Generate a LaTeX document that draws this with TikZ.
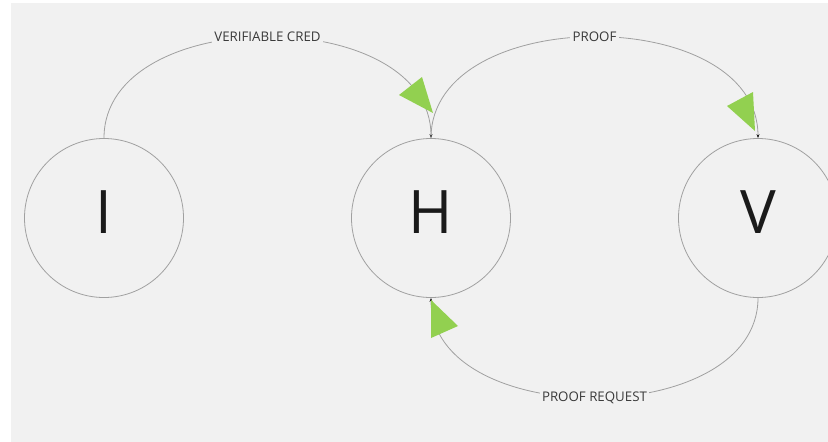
\documentclass[tikz,border=0pt]{standalone}
\usepackage{fontspec}
\setmainfont{Open Sans}
\usetikzlibrary{arrows.meta}
\definecolor{bggray}{HTML}{F1F1F1}
\definecolor{linegray}{HTML}{A0A0A0}
\definecolor{arrgreen}{HTML}{92D050}
\definecolor{lbl}{HTML}{3A3A3A}
\definecolor{ink}{HTML}{1A1A1A}
\tikzset{
  actor/.style={circle, draw=linegray, line width=0.8pt, minimum size=159pt, inner sep=0pt},
  letter/.style={inner sep=0pt, text=ink, font=\fontsize{60}{60}\selectfont},
  conn/.style={draw=linegray, line width=0.8pt, -{Stealth[length=4pt,width=3pt,color=ink]}},
  lab/.style={fill=bggray, text=lbl, inner sep=2.5pt, font=\fontsize{13.3}{14}\selectfont},
  bigtip/.style={fill=arrgreen, draw=none}
}
\begin{document}
\begin{tikzpicture}[x=1pt,y=-1pt]
\useasboundingbox (0,0) rectangle (828,442);
\clip (0,0) rectangle (828,442);
\fill[white] (0,0) rectangle (828,442);
\fill[bggray] (11,3) rectangle (828,442);

\node[actor] (i) at (104,218) {};
\node[actor] (h) at (431,218) {};
\node[actor] (v) at (758,218) {};
\node[letter] (il) at ([yshift=6pt]i.center) {I};
\node[letter] (hl) at ([yshift=6pt]h.center) {H};
\node[letter] (vl) at ([yshift=6pt]v.center) {V};

\draw[conn] (i.north) .. controls +(0,-135) and +(0,-135) .. (h.north)
  node[lab, pos=0.5] {VERIFIABLE CRED};
\draw[conn] (h.north) .. controls +(0,-135) and +(0,-135) .. (v.north)
  node[lab, pos=0.5] {PROOF};
\draw[conn] (v.south) .. controls +(0,133) and +(0,133) .. (h.south)
  node[lab, pos=0.5] {PROOF REQUEST};

\fill[bigtip] (399,95) -- (422,77) -- (433,113) -- cycle;
\fill[bigtip] (727,106) -- (753,92) -- (755,131) -- cycle;
\fill[bigtip] (431,300) -- (458,326) -- (431,338) -- cycle;
\end{tikzpicture}
\end{document}
